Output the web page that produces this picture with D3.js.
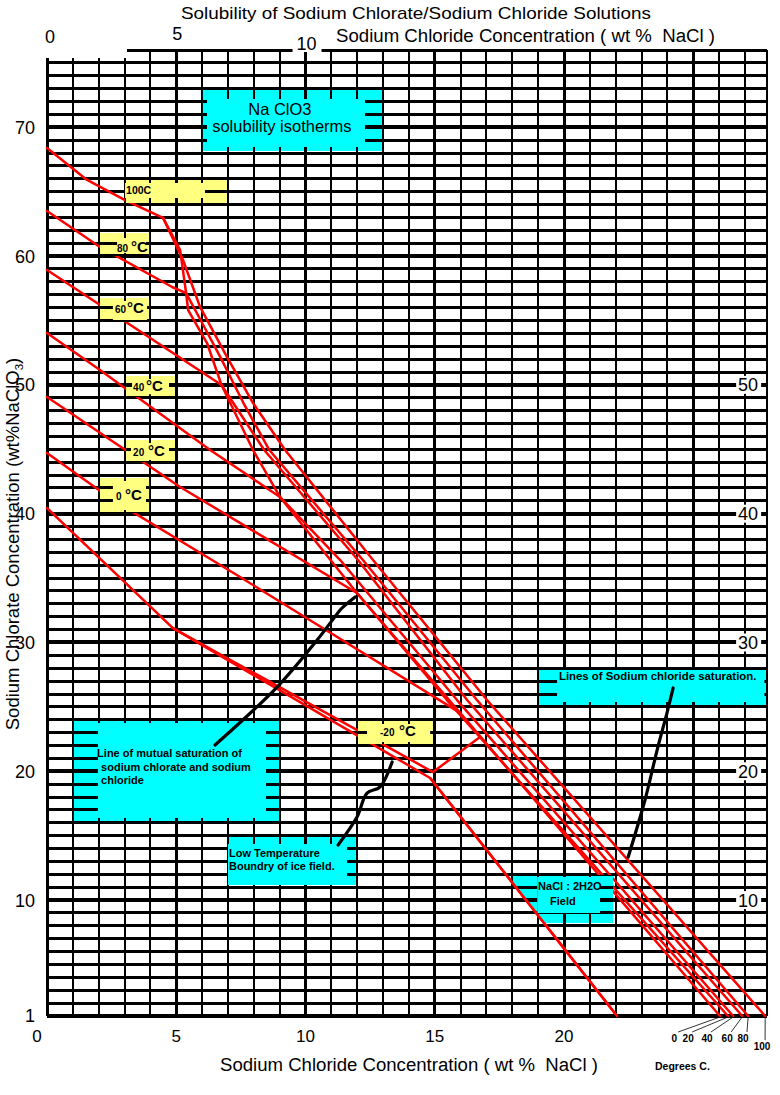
<!DOCTYPE html>
<html><head><meta charset="utf-8">
<script src="https://cdnjs.cloudflare.com/ajax/libs/d3/7.8.5/d3.min.js"></script>
<style>
html,body{margin:0;padding:0;background:#fff;}
svg{display:block;font-family:"Liberation Sans",Arial,sans-serif;}
text{white-space:pre;}
</style></head><body><svg id="chart" width="780" height="1095"></svg>
<script>
// ===================== DATA =====================
const xTickValues = [0, 5, 10, 15, 20];
const topTickValues = [0, 5, 10];
const yTickValuesLeft = [1, 10, 20, 30, 40, 50, 60, 70];
const yTickValuesRight = [10, 20, 30, 40, 50];
const degreeLabels = ["0", "20", "40", "60", "80", "100"];

// NaClO3 solubility isotherms  [wt% NaCl, wt% NaClO3]
const iso100 = [[0, 68.39], [1.55, 65.91], [3.02, 64.35], [4.49, 62.96]];
const iso80  = [[0, 63.50], [2.05, 60.71], [4.84, 57.60], [5.38, 57.13]];
const iso60  = [[0, 58.92], [6.75, 49.99]];
const iso40  = [[0, 54.03], [2.05, 51.16], [6.31, 44.94], [9.01, 41.30]];
const iso20  = [[0, 49.06], [5.15, 42.07], [11.99, 33.84]];
const iso0   = [[0, 44.71], [2.55, 41.06], [7.47, 35.08], [15.98, 24.53]];
const isoM20 = [[0, 40.44], [4.87, 31.12], [14.93, 19.94], [16.75, 22.66]];
const iceBoundary = [[4.87, 31.12], [14.82, 19.48], [22.05, 1.0]];

// Lines of sodium chloride saturation (0..100 C)
const nacl0   = [[15.98, 24.53], [26.03, 1.0]];
const nacl20  = [[11.99, 33.84], [15.47, 25.53], [26.34, 1.0]];
const nacl40  = [[9.01, 41.30], [11.34, 36.40], [15.86, 25.53], [26.54, 1.0]];
const nacl60  = [[6.75, 49.99], [8.40, 44.94], [12.03, 36.40], [16.25, 25.53], [26.89, 1.0]];
const nacl80  = [[5.38, 57.13], [5.95, 55.0], [6.70, 52.17], [7.60, 48.59], [8.60, 44.94], [12.22, 36.40], [16.63, 25.53], [27.12, 1.0]];
const nacl100 = [[4.49, 62.96], [5.26, 59.70], [5.92, 56.05], [6.96, 52.17], [7.97, 48.59], [9.21, 44.94], [12.61, 36.40], [17.02, 25.53], [27.78, 1.0]];

// Line of mutual saturation
const mutualSaturation = [[4.49, 62.96], [5.15, 60.47], [5.38, 57.13], [5.46, 55.81], [6.19, 53.25], [6.75, 49.99], [7.97, 44.94], [9.01, 41.30], [11.99, 33.84], [15.98, 24.53]];

// annotation pointer curves
const pointerMutual = [[6.50, 22.04], [8.90, 26.54], [10.45, 30.19], [11.34, 32.52], [11.45, 32.75], [11.92, 33.53]];
const pointerIce    = [[11.26, 14.28], [11.99, 16.45], [12.38, 18.31], [12.88, 18.78], [13.35, 20.72]];
const pointerNaCl   = [[22.48, 13.34], [23.13, 17.77], [23.60, 21.65], [23.99, 24.60], [24.22, 26.47]];

// ===================== LAYOUT =====================
const svg = d3.select("#chart");
const x = d3.scaleLinear().domain([0, 27.85]).range([47, 767]);
const y = d3.scaleLinear().domain([1, 76]).range([1016, 50]);
const line = d3.line().x(d => x(d[0])).y(d => y(d[1]));
const RED = "#ff0000";

// ---- grid ----
const grid = svg.append("g").attr("id", "grid").attr("shape-rendering", "crispEdges").attr("stroke", "#000");
d3.range(1, 76).forEach(v => {
  grid.append("line").attr("x1", x(0)).attr("x2", x(27.85)).attr("y1", y(v)).attr("y2", y(v))
    .attr("stroke-width", (v % 10 === 0 || v === 1) ? 4 : 3);
});
d3.range(0, 28).forEach(v => {
  grid.append("line").attr("x1", x(v)).attr("x2", x(v)).attr("y1", y(1)).attr("y2", y(v <= 3 ? 75.4 : 76))
    .attr("stroke-width", v % 5 === 0 ? 3 : 2);
});
grid.append("line").attr("x1", x(27.85)).attr("x2", x(27.85)).attr("y1", y(1)).attr("y2", y(76)).attr("stroke-width", 2);
grid.append("line").attr("x1", x(3.1)).attr("x2", x(27.85)).attr("y1", y(76)).attr("y2", y(76)).attr("stroke-width", 3);

// ---- red curves ----
const redG = svg.append("g").attr("fill", "none").attr("stroke", RED).attr("stroke-width", 2.5)
  .attr("stroke-linejoin", "round").attr("stroke-linecap", "round");
[iso100, iso80, iso60, iso40, iso20, iso0, isoM20, iceBoundary,
 nacl0, nacl20, nacl40, nacl60, nacl80, nacl100, mutualSaturation].forEach(s => {
  redG.append("path").attr("d", line(s));
});

// ---- annotation boxes (data-space rectangles: [x0,x1,y0,y1]) ----
const CYAN = "#00ffff", YEL = "#ffff80";
const boxes = [
  {fill: CYAN, o: [6.03, 12.96, 68.16, 72.97], i: [6.19, 12.30, 68.47, 72.20],
   texts: [{t: "Na ClO3", dx: 77, dy: 26, size: 16.5, anchor: "middle"}, {t: "solubility isotherms", dx: 79, dy: 43, size: 16.5, anchor: "middle"}]},
  {fill: YEL, o: [3.02, 6.96, 64.12, 65.98], i: [3.02, 6.11, 64.51, 65.67],
   texts: [{t: "100C", dx: 1, dy: 15, size: 10.5, bold: true}]},
  {fill: YEL, o: [2.05, 3.95, 60.01, 61.79], i: [2.71, 3.83, 60.24, 61.40],
   texts: [{t: "80", dx: 17, dy: 19, size: 10, bold: true}, {t: "°C", dx: 31, dy: 19, size: 15, bold: true}]},
  {fill: YEL, o: [2.05, 3.95, 54.88, 56.75], i: [2.55, 3.87, 55.03, 56.51],
   texts: [{t: "60", dx: 15, dy: 15, size: 10, bold: true}, {t: "°C", dx: 27, dy: 15, size: 15, bold: true}]},
  {fill: YEL, o: [3.06, 4.99, 49.06, 50.69], i: [3.29, 4.72, 49.27, 50.46],
   texts: [{t: "40", dx: 7, dy: 15, size: 10, bold: true}, {t: "°C", dx: 20, dy: 15, size: 15, bold: true}]},
  {fill: YEL, o: [3.06, 4.99, 44.01, 45.72], i: [3.25, 4.72, 44.17, 45.49],
   texts: [{t: "20", dx: 7, dy: 16, size: 10, bold: true}, {t: "°C", dx: 22, dy: 16, size: 15, bold: true}]},
  {fill: YEL, o: [2.05, 3.95, 40.05, 42.77], i: [2.55, 3.83, 40.29, 42.54],
   texts: [{t: "0", dx: 16, dy: 22, size: 10, bold: true}, {t: "°C", dx: 25, dy: 22, size: 15, bold: true}]},
  {fill: YEL, o: [12.03, 14.93, 22.12, 23.90], i: [12.38, 14.82, 22.27, 23.67],
   texts: [{t: "-20", dx: 22, dy: 15, size: 10, bold: true}, {t: "°C", dx: 41, dy: 15, size: 15, bold: true}]},
  {fill: CYAN, o: [1.01, 8.98, 16.06, 23.90], i: [1.97, 8.47, 16.37, 23.75],
   texts: [{t: "Line of mutual saturation of", dx: 24, dy: 36, size: 11, bold: true},
           {t: "sodium chlorate and sodium", dx: 28, dy: 50, size: 11, bold: true},
           {t: "chloride", dx: 28, dy: 63, size: 11, bold: true}]},
  {fill: CYAN, o: [7.00, 11.95, 11.17, 14.90], i: [7.00, 11.61, 11.17, 14.35],
   texts: [{t: "Low Temperature", dx: 1, dy: 20, size: 11, bold: true},
           {t: "Boundry of ice field.", dx: 1, dy: 33, size: 11, bold: true}]},
  {fill: CYAN, o: [18.99, 27.85, 25.15, 28.02], i: [19.73, 27.75, 25.38, 27.86],
   texts: [{t: "Lines of Sodium chloride saturation.", dx: 21, dy: 12, size: 11.4, bold: true}]},
  {fill: CYAN, o: [17.99, 21.90, 8.22, 11.95], i: [18.96, 21.39, 9.00, 11.79], clipIce: true,
   texts: [{t: "NaCl : 2H2O", dx: 26, dy: 15, size: 11, bold: true}, {t: "Field", dx: 38, dy: 30, size: 11, bold: true}]}
];

const defs = svg.append("defs");
const segA = iceBoundary[1], segB = iceBoundary[2];
defs.append("clipPath").attr("id", "rightOfIce").append("path")
  .attr("d", `M${x(segA[0])},${y(segA[1])}L${x(segB[0])},${y(segB[1])}L${x(27.85)},${y(segB[1])}L${x(27.85)},${y(segA[1])}Z`);

boxes.forEach((b, k) => {
  const ox0 = x(b.o[0]), ox1 = x(b.o[1]), oy0 = y(b.o[3]), oy1 = y(b.o[2]);
  const ix0 = x(b.i[0]), ix1 = x(b.i[1]), iy0 = y(b.i[3]), iy1 = y(b.i[2]);
  const grp = svg.append("g");
  if (b.clipIce) grp.attr("clip-path", "url(#rightOfIce)");
  grp.append("rect").attr("x", ox0).attr("y", oy0).attr("width", ox1 - ox0).attr("height", oy1 - oy0).attr("fill", b.fill);
  defs.append("clipPath").attr("id", "ring" + k).append("path")
    .attr("clip-rule", "evenodd")
    .attr("d", `M${ox0},${oy0}H${ox1}V${oy1}H${ox0}Z M${ix0},${iy0}H${ix1}V${iy1}H${ix0}Z`);
  grp.append("g").attr("clip-path", `url(#ring${k})`).append("use").attr("href", "#grid");
  b.texts.forEach(t => {
    svg.append("text").attr("x", ox0 + t.dx).attr("y", oy0 + t.dy)
      .attr("text-anchor", t.anchor || "start")
      .attr("font-size", t.size).attr("font-weight", t.bold ? "bold" : "normal")
      .attr("fill", "#000").text(t.t);
  });
});

svg.append("path").attr("d", line([segA, segB])).attr("fill", "none").attr("stroke", RED).attr("stroke-width", 2.5);

// ---- pointers ----
const ptrLine = d3.line().x(d => x(d[0])).y(d => y(d[1])).curve(d3.curveCatmullRom);
[pointerMutual, pointerIce, pointerNaCl].forEach(p => {
  svg.append("path").attr("d", ptrLine(p)).attr("fill", "none").attr("stroke", "#000")
    .attr("stroke-width", 3.2).attr("stroke-linecap", "round");
});

// ---- axis labels ----
const axisG = svg.append("g").attr("fill", "#000");
yTickValuesLeft.forEach(v => {
  axisG.append("text").attr("x", x(0) - 12).attr("y", y(v)).attr("dy", "0.36em")
    .attr("text-anchor", "end").attr("font-size", 18).text(v);
});
yTickValuesRight.forEach(v => {
  const cx = x(27.12);
  axisG.append("rect").attr("x", cx - 12).attr("y", y(v) - 9).attr("width", 25).attr("height", 18).attr("fill", "#fff");
  axisG.append("text").attr("x", cx).attr("y", y(v)).attr("dy", "0.36em")
    .attr("text-anchor", "middle").attr("font-size", 18).text(v);
});
xTickValues.forEach(v => {
  axisG.append("text").attr("x", x(v) + (v === 0 ? -10 : 0)).attr("y", y(1) + 26)
    .attr("text-anchor", "middle").attr("font-size", 17).text(v);
});
topTickValues.forEach(v => {
  const big = v === 10;
  if (big) axisG.append("rect").attr("x", x(v) - 13).attr("y", 36).attr("width", 29).attr("height", 16).attr("fill", "#fff");
  axisG.append("text").attr("x", x(v) + (v === 0 ? 3 : 1)).attr("y", big ? 50 : (v === 0 ? 43 : 40))
    .attr("text-anchor", "middle").attr("font-size", 18).text(v);
});

// titles
svg.append("text").attr("x", 181).attr("y", 19).attr("font-size", 17)
  .attr("textLength", 470).attr("lengthAdjust", "spacingAndGlyphs")
  .text("Solubility of Sodium Chlorate/Sodium Chloride Solutions");
svg.append("text").attr("x", 336).attr("y", 42).attr("font-size", 18)
  .attr("textLength", 379).attr("lengthAdjust", "spacingAndGlyphs")
  .text("Sodium Chloride Concentration ( wt %  NaCl )");
svg.append("text").attr("x", 220).attr("y", 1071).attr("font-size", 18)
  .attr("textLength", 378).attr("lengthAdjust", "spacingAndGlyphs")
  .text("Sodium Chloride Concentration ( wt %  NaCl )");
const yt = svg.append("text").attr("transform", "translate(19,544) rotate(-90)")
  .attr("text-anchor", "middle").attr("font-size", 18.5);
yt.append("tspan").text("Sodium Chlorate Concentration (wt%NaClO");
yt.append("tspan").attr("font-size", 11.5).attr("dy", 4).text("3");
yt.append("tspan").attr("dy", -4).text(")");

svg.append("text").attr("x", 655).attr("y", 1070).attr("font-size", 10.5).attr("font-weight", "bold")
  .text("Degrees C.");

const naclEnds = [nacl0, nacl20, nacl40, nacl60, nacl80, nacl100].map(s => s[s.length - 1][0]);
const labelX = [24.26, 24.80, 25.53, 26.31, 26.92, 27.66];
degreeLabels.forEach((t, k) => {
  const lx = x(labelX[k]);
  const ly = k === 5 ? 1050 : 1042;
  svg.append("path")
    .attr("d", `M${lx + (k === 5 ? 3 : 4)},${ly - 10}L${x(naclEnds[k])},${y(1) + 1}`)
    .attr("stroke", "#000").attr("stroke-width", 0.8).attr("fill", "none");
  svg.append("text").attr("x", lx).attr("y", ly).attr("text-anchor", "middle")
    .attr("font-family", '"Liberation Sans Narrow", "Liberation Sans", Arial, sans-serif')
    .attr("font-size", 10).attr("font-weight", "bold").text(t);
});
</script></body></html>
